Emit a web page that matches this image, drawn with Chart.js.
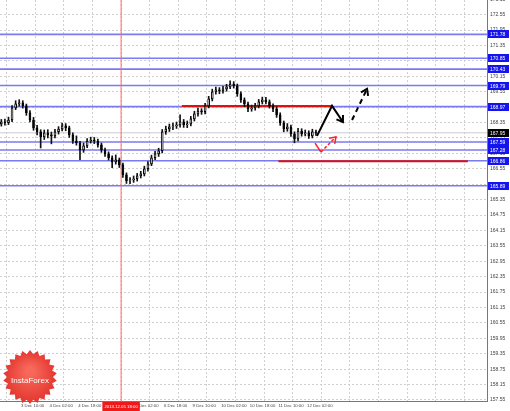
<!DOCTYPE html>
<html><head><meta charset="utf-8">
<script src="https://cdn.jsdelivr.net/npm/chart.js@4.4.0/dist/chart.umd.min.js"></script>
<style>html,body{margin:0;padding:0;background:#fff;overflow:hidden}canvas{display:block}</style>
</head><body>
<canvas id="c" width="510" height="411"></canvas>
<script>
// ---- data (2-hour candles, hour 0 = 3 Dec 10:00) ----
const barHours = [-11,-9,-7,-5,-3,-1,1,3,5,7,9,11,13,15,17,19,21,23,25,27,29,31,33,35,37,39,41,43,45,47,49,51,53,55,57,59,61,63,65,67,69,71,73,75,77,79,81,83,85,87,89,91,93,95,97,99,101,103,105,107,109,111,113,115,117,119,121,123,125,127,129,131,133,135,137,139,141,143,145,147,149,151,153,155,157,159,161,163,165];
const openPrices = [168.30,168.38,168.34,168.45,168.92,169.08,169.12,169.00,168.73,168.45,
168.14,167.99,167.79,167.95,167.87,167.83,167.99,168.10,168.22,168.14,
167.87,167.63,167.56,167.28,167.44,167.63,167.67,167.63,167.48,167.28,
167.13,166.98,166.82,166.90,166.70,166.31,166.08,166.12,166.16,166.28,
166.35,166.55,166.74,166.98,167.13,167.25,167.99,168.10,168.18,168.22,
168.26,168.38,168.26,168.30,168.49,168.69,168.80,168.77,169.00,169.27,
169.55,169.62,169.58,169.66,169.74,169.85,169.78,169.47,169.23,169.08,
168.88,168.92,169.00,169.16,169.23,169.16,169.00,168.88,168.65,168.34,
168.10,168.18,167.91,167.71,168.02,167.91,167.95,167.83,167.99];
const highPrices = [168.47,168.48,168.56,169.01,169.20,169.24,169.20,169.07,168.82,168.55,
168.24,168.07,168.06,168.07,167.98,168.09,168.19,168.33,168.31,168.21,
167.95,167.83,167.62,167.55,167.73,167.78,167.77,167.71,167.55,167.36,
167.21,167.05,167.09,166.97,166.77,166.39,166.21,166.27,166.37,166.45,
166.65,166.83,167.08,167.23,167.35,168.08,168.21,168.29,168.33,168.37,
168.65,168.47,168.41,168.59,168.79,168.91,168.89,169.10,169.37,169.65,
169.73,169.71,169.76,169.84,169.97,169.94,169.85,169.55,169.31,169.15,
169.03,169.10,169.25,169.34,169.33,169.23,169.08,168.96,168.73,168.41,
168.31,168.25,167.99,168.12,168.11,168.06,168.03,168.09,168.06];
const lowPrices = [168.21,168.25,168.27,168.38,168.85,168.99,168.91,168.63,168.37,168.05,
167.87,167.36,167.69,167.75,167.52,167.75,167.90,168.02,168.03,167.77,
167.54,167.47,166.90,167.19,167.37,167.55,167.53,167.39,167.19,167.03,
166.89,166.59,166.73,166.60,166.21,165.98,165.97,166.02,166.07,166.19,
166.27,166.46,166.67,166.90,167.03,167.17,167.89,168.00,168.07,168.12,
168.17,168.16,168.15,168.22,168.41,168.60,168.67,168.69,168.92,169.19,
169.45,169.47,169.49,169.57,169.67,169.69,169.37,169.13,168.97,168.77,
168.79,168.83,168.92,169.07,169.07,168.91,168.77,168.55,168.24,167.99,
168.01,167.81,167.56,167.63,167.82,167.83,167.73,167.75,167.85];
const closePrices = [168.38,168.34,168.45,168.92,169.08,169.12,169.00,168.73,168.45,168.14,
167.99,167.79,167.95,167.87,167.83,167.99,168.10,168.22,168.14,167.87,
167.63,167.56,167.28,167.44,167.63,167.67,167.63,167.48,167.28,167.13,
166.98,166.82,166.90,166.70,166.31,166.08,166.12,166.16,166.28,166.35,
166.55,166.74,166.98,167.13,167.25,167.99,168.10,168.18,168.22,168.26,
168.38,168.26,168.30,168.49,168.69,168.80,168.77,169.00,169.27,169.55,
169.62,169.58,169.66,169.74,169.85,169.78,169.47,169.23,169.08,168.88,
168.92,169.00,169.16,169.23,169.16,169.00,168.88,168.65,168.34,168.10,
168.18,167.91,167.71,168.02,167.91,167.95,167.83,167.99,167.95];

const timeTickHours = [0,16,32,48,64,80,96,112,128,144,160,176,192,208,224,240,256];
const timeTickLabels = ['3 Dec 10:00','4 Dec 02:00','4 Dec 18:00','5 Dec 10:00','6 Dec 02:00','6 Dec 18:00','9 Dec 10:00','10 Dec 02:00','10 Dec 18:00','11 Dec 10:00','12 Dec 02:00'];
const priceTicks = [157.55,158.15,158.75,159.35,159.95,160.55,161.15,161.75,162.35,162.95,163.55,164.15,164.75,165.35,165.95,166.55,167.15,167.75,168.35,168.95,169.55,170.15,170.75,171.35,171.95,172.55,173.15];

const blueLevels = [171.78,170.85,170.43,169.79,168.97,167.59,167.28,166.86,165.89];
const currentPrice = 167.95;
const redUpperLevel = 168.99, redUpperHours = [90, 174];
const redLowerLevel = 166.84, redLowerHours = [144, 250];
const markerHour = 56, markerLabel = '2013.12.05 18:00';

const blackArrowHours = [165.6,174.0,180.1], blackArrowPrices = [167.83,169.00,168.37];
const blackDashHours = [185.2,193.6], blackDashPrices = [168.45,169.66];
const redSolidHours = [164.5,167.8], redSolidPrices = [167.55,167.20];
const redDashHours = [167.8,176.2], redDashPrices = [167.20,167.79];

const xMin = -11.75, xMax = 260.7, yMin = 157.51, yMax = 173.12;
const FONT = '"Liberation Sans", Arial, sans-serif';

// ---- build datasets ----
function pts(hs, ps){ return hs.map((h,i)=>({x:h,y:ps[i]})); }
function hline(v, h0, h1, color, w, order){
  return {type:'line', data:[{x:h0,y:v},{x:h1,y:v}], borderColor:color, borderWidth:w, pointRadius:0, order:order};
}
const datasets = [];
blueLevels.forEach(v => datasets.push(hline(v, xMin, xMax, '#7a7af2', 1.6, 20)));
datasets.push(hline(currentPrice, xMin, xMax, '#cccccc', 1, 21));
datasets.push(hline(redUpperLevel, redUpperHours[0], redUpperHours[1], '#e01010', 2, 15));
datasets.push(hline(redLowerLevel, redLowerHours[0], redLowerHours[1], '#e01010', 2, 15));
datasets.push({type:'line', data:[{x:markerHour,y:yMin},{x:markerHour,y:yMax}], borderColor:'#ff6a6a', borderWidth:1, pointRadius:0, order:16});
datasets.push({type:'bar', data: barHours.map((h,i)=>({x:h,y:[lowPrices[i],highPrices[i]]})),
  backgroundColor:'#111', barThickness:1, grouped:false, order:6});
datasets.push({type:'bar', data: barHours.map((h,i)=>({x:h,y:[openPrices[i],closePrices[i]]})),
  backgroundColor: barHours.map((h,i)=> closePrices[i]>=openPrices[i] ? '#ffffff' : '#000000'),
  borderColor:'#000', borderWidth:1, borderSkipped:false, barThickness:2, minBarLength:1, grouped:false, order:5});
datasets.push({type:'line', data:pts(blackArrowHours,blackArrowPrices), borderColor:'#000', borderWidth:2, pointRadius:0, order:1, arrowHead:true});
datasets.push({type:'line', data:pts(blackDashHours,blackDashPrices), borderColor:'#000', borderWidth:2, borderDash:[5,4], pointRadius:0, order:1, arrowHead:true});
datasets.push({type:'line', data:pts(redSolidHours,redSolidPrices), borderColor:'#ff2020', borderWidth:1.5, pointRadius:0, order:1});
datasets.push({type:'line', data:pts(redDashHours,redDashPrices), borderColor:'#ff2020', borderWidth:1.5, borderDash:[3,2], pointRadius:0, order:1, arrowHead:true});

const overlay = {
  id:'overlay',
  afterDatasetsDraw(chart){
    const ctx = chart.ctx;
    chart.data.datasets.forEach((ds,i)=>{
      if(!ds.arrowHead) return;
      const m = chart.getDatasetMeta(i).data;
      const a = m[m.length-2], b = m[m.length-1];
      const ang = Math.atan2(b.y-a.y, b.x-a.x), L = 7;
      ctx.save(); ctx.strokeStyle = ds.borderColor; ctx.lineWidth = ds.borderWidth; ctx.setLineDash([]);
      ctx.beginPath();
      ctx.moveTo(b.x - L*Math.cos(ang-0.6), b.y - L*Math.sin(ang-0.6));
      ctx.lineTo(b.x, b.y);
      ctx.lineTo(b.x - L*Math.cos(ang+0.6), b.y - L*Math.sin(ang+0.6));
      ctx.stroke(); ctx.restore();
    });
  },
  afterDraw(chart){
    const ctx = chart.ctx, ys = chart.scales.y, xs = chart.scales.x, ca = chart.chartArea;
    ctx.save();
    ctx.font = '5px ' + FONT;
    ctx.textBaseline = 'middle'; ctx.textAlign = 'left';
    function box(v, bg){
      const y = Math.round(ys.getPixelForValue(v));
      ctx.fillStyle = bg; ctx.fillRect(ca.right+1, y-4, 21, 8);
      ctx.fillStyle = '#fff'; ctx.fillText(v.toFixed(2), ca.right+3, y+0.5);
    }
    blueLevels.forEach(v=>box(v,'#1414ee'));
    box(currentPrice,'#000');
    // marker time label
    ctx.font = '4.3px ' + FONT;
    const mx = xs.getPixelForValue(markerHour);
    const tw = ctx.measureText(markerLabel).width + 4;
    ctx.fillStyle = '#f01818'; ctx.fillRect(mx - tw/2, ca.bottom+1, tw, 9);
    ctx.fillStyle = '#fff'; ctx.textAlign='center'; ctx.fillText(markerLabel, mx, ca.bottom+5.5);
    // watermark logo
    const cx = 30, cy = 377, n = 22;
    ctx.beginPath();
    for(let k=0;k<n*2;k++){
      const r = k%2 ? 23 : 27, a = k*Math.PI/n - Math.PI/2;
      const px = cx + r*Math.cos(a), py = cy + r*Math.sin(a);
      k? ctx.lineTo(px,py) : ctx.moveTo(px,py);
    }
    ctx.closePath();
    const g = ctx.createRadialGradient(cx,cy-6,4,cx,cy,28);
    g.addColorStop(0,'#f7685a'); g.addColorStop(1,'#e2332c');
    ctx.fillStyle = g; ctx.fill();
    ctx.fillStyle = '#fff'; ctx.font = '8px ' + FONT;
    ctx.textAlign='center'; ctx.fillText('InstaForex', cx, cy+4);
    ctx.restore();
  }
};

new Chart(document.getElementById('c'), {
  data:{datasets},
  options:{
    responsive:false, animation:false, devicePixelRatio:1,
    layout:{padding:0},
    plugins:{legend:{display:false}, tooltip:{enabled:false}},
    scales:{
      x:{type:'linear', min:xMin, max:xMax, offset:false,
        afterBuildTicks(s){ s.ticks = timeTickHours.map(v=>({value:v})); },
        afterFit(s){ s.height = 10; s.paddingLeft = 0; s.paddingRight = 0; s.paddingTop = 0; s.paddingBottom = 0; },
        ticks:{autoSkip:false, maxRotation:0, align:'start', padding:2, color:'#444',
          font:{size:4.3, family:FONT},
          callback(v){ const i = timeTickHours.indexOf(v); return i < timeTickLabels.length ? timeTickLabels[i] : ''; }},
        grid:{color:'#cfcfcf', drawTicks:false, lineWidth:1},
        border:{color:'#777', dash:[2,2]}},
      y:{type:'linear', position:'right', min:yMin, max:yMax,
        afterBuildTicks(s){ s.ticks = priceTicks.map(v=>({value:v})); },
        afterFit(s){ s.width = 23; s.paddingTop = 0; s.paddingBottom = 0; s.paddingLeft = 0; s.paddingRight = 0; },
        ticks:{padding:3, color:'#444', font:{size:5, family:FONT},
          callback(v){ return v.toFixed(2); }},
        grid:{color:'#cfcfcf', drawTicks:false, lineWidth:1},
        border:{color:'#777', dash:[2,2]}}
    }
  },
  plugins:[overlay]
});
</script>
</body></html>
